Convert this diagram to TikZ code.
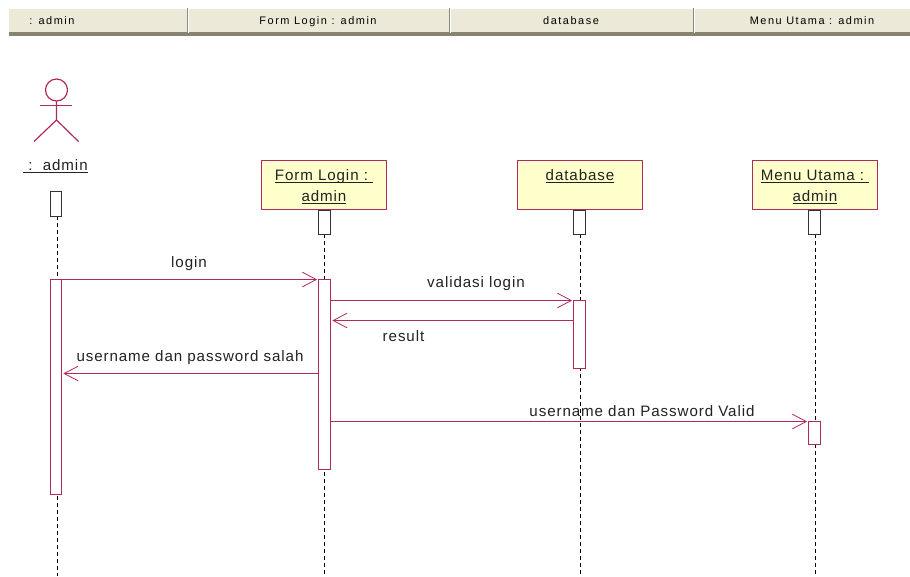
\documentclass[tikz,border=0pt]{standalone}
\usepackage{fontspec}
\usetikzlibrary{arrows.meta}
\setmainfont[LetterSpace=6]{Liberation Sans}
\newfontfamily\hdrfont[LetterSpace=14]{Liberation Sans}
\newcommand{\ulsmash}[1]{\underline{\smash{#1}}}
\definecolor{umlred}{HTML}{B02A5C}
\definecolor{hdrfill}{HTML}{ECE9D8}
\definecolor{hdrbar}{HTML}{86836F}
\definecolor{hdrsep}{HTML}{8C8A7C}
\definecolor{boxfill}{HTML}{FFFFCC}
\definecolor{txt}{HTML}{222222}
\tikzset{
  x=0.75pt,y=-0.75pt,
  every node/.style={inner sep=0pt,outer sep=0pt,text=txt},
  hdrtext/.style={font=\hdrfont\fontsize{8.2}{10}\selectfont,text=black,anchor=base},
  lbl/.style={font=\fontsize{11.35}{15}\selectfont,anchor=base},
  objbox/.style={draw=umlred,fill=boxfill,line width=0.95pt,minimum width=93.75pt,minimum height=36.75pt,align=center,font=\fontsize{11.35}{15.75}\selectfont},
  headbar/.style={draw=black!80,fill=white,line width=0.95pt,minimum width=9pt,minimum height=18pt},
  actbar/.style={draw=umlred,fill=white,line width=0.95pt,minimum width=9pt},
  msg/.style={draw=umlred,line width=0.95pt,-{Straight Barb[length=10.5pt,width=11pt,line width=0.6pt]},shorten >=1pt},
  life/.style={draw=black,line width=0.85pt,dash pattern=on 3pt off 2.25pt},
  actorline/.style={draw=umlred,line width=0.9pt}
}
\begin{document}
\begin{tikzpicture}
\useasboundingbox (0,0) rectangle (910,576);
\fill[white] (0,0) rectangle (910,576);
% header
\fill[hdrfill] (9,9) rectangle (910,33);
\fill[hdrbar] (9,32) rectangle (910,36);
\foreach \sx in {187,449,693}{
  \fill[hdrsep] (\sx-0.5,8) rectangle (\sx+0.7,33);
  \fill[white] (\sx+0.7,8) rectangle (\sx+1.5,33);
}
\node[hdrtext] (h1) at (52,24.5) {: admin};
\node[hdrtext] (h2) at (318,24.5) {Form Login : admin};
\node[hdrtext] (h3) at (571,24.5) {database};
\node[hdrtext] (h4) at (812,24.5) {Menu Utama : admin};
% lifelines
\coordinate (endA) at (57.5,576);
\coordinate (endF) at (324.5,576);
\coordinate (endD) at (580.5,576);
\coordinate (endM) at (815.5,576);
\coordinate (startA) at (57.5,216);
\coordinate (startF) at (324.5,234);
\coordinate (startD) at (580.5,234);
\coordinate (startM) at (815.5,234);
\draw[life] (startA) -- (endA);
\draw[life] (startF) -- (endF);
\draw[life] (startD) -- (endD);
\draw[life] (startM) -- (endM);
% actor
\draw[actorline] (56.5,90) circle (11);
\draw[actorline] (56.5,101) -- (56.5,120) -- (34,141.5);
\draw[actorline] (56.5,120) -- (78.5,141.5);
\draw[actorline] (40,105.5) -- (72,105.5);
\node[lbl] (actorlabel) at (55.5,170.5) {\underline{\ :\ \ admin}};
% object boxes
\node[objbox] (boxF) at (324,185) {\rule{0pt}{11.5pt}\ulsmash{Form Login :\ }\\\ulsmash{admin}};
\node[objbox] (boxD) at (580,185) {\rule{0pt}{11.5pt}\ulsmash{database}\\\phantom{\ulsmash{admin}}};
\node[objbox] (boxM) at (815,185) {\rule{0pt}{11.5pt}\ulsmash{Menu Utama :\ }\\\ulsmash{admin}};
% head bars
\node[headbar,minimum width=8.25pt,minimum height=18.75pt] (hA) at (56,204) {};
\node[headbar] (hF) at (324.5,222.5) {};
\node[headbar] (hD) at (579.5,222.5) {};
\node[headbar] (hM) at (814.5,222.5) {};
% activations
\node[actbar,minimum width=8.25pt,minimum height=161.25pt] (actA) at (56,387) {};
\node[actbar,minimum height=142.5pt] (actF) at (324.5,374.5) {};
\node[actbar,minimum height=51pt] (actD) at (579.5,334.5) {};
\node[actbar,minimum height=17.25pt] (actM) at (814.5,433) {};
% messages
\coordinate (resS) at (574,320.5);
\coordinate (resE) at (331,320.5);
\coordinate (salS) at (318,373.5);
\coordinate (salE) at (62,373.5);
\coordinate (valS) at (330.5,421.5);
\draw[msg] (actA.north east) -- (actF.north west);
\draw[msg] (actF.east |- actD.north) -- (actD.north west);
\draw[msg] (resS) -- (resE);
\draw[msg] (salS) -- (salE);
\draw[msg] (valS) -- (actM.north west);
% labels
\node[lbl] (l1) at (189,267.5) {login};
\node[lbl] (l2) at (476,287) {validasi login};
\node[lbl] (l3) at (403.5,341.5) {result};
\node[lbl] (l4) at (190,361) {username dan password salah};
\node[lbl] (l5) at (642,416) {username dan Password Valid};
\end{tikzpicture}
\end{document}
